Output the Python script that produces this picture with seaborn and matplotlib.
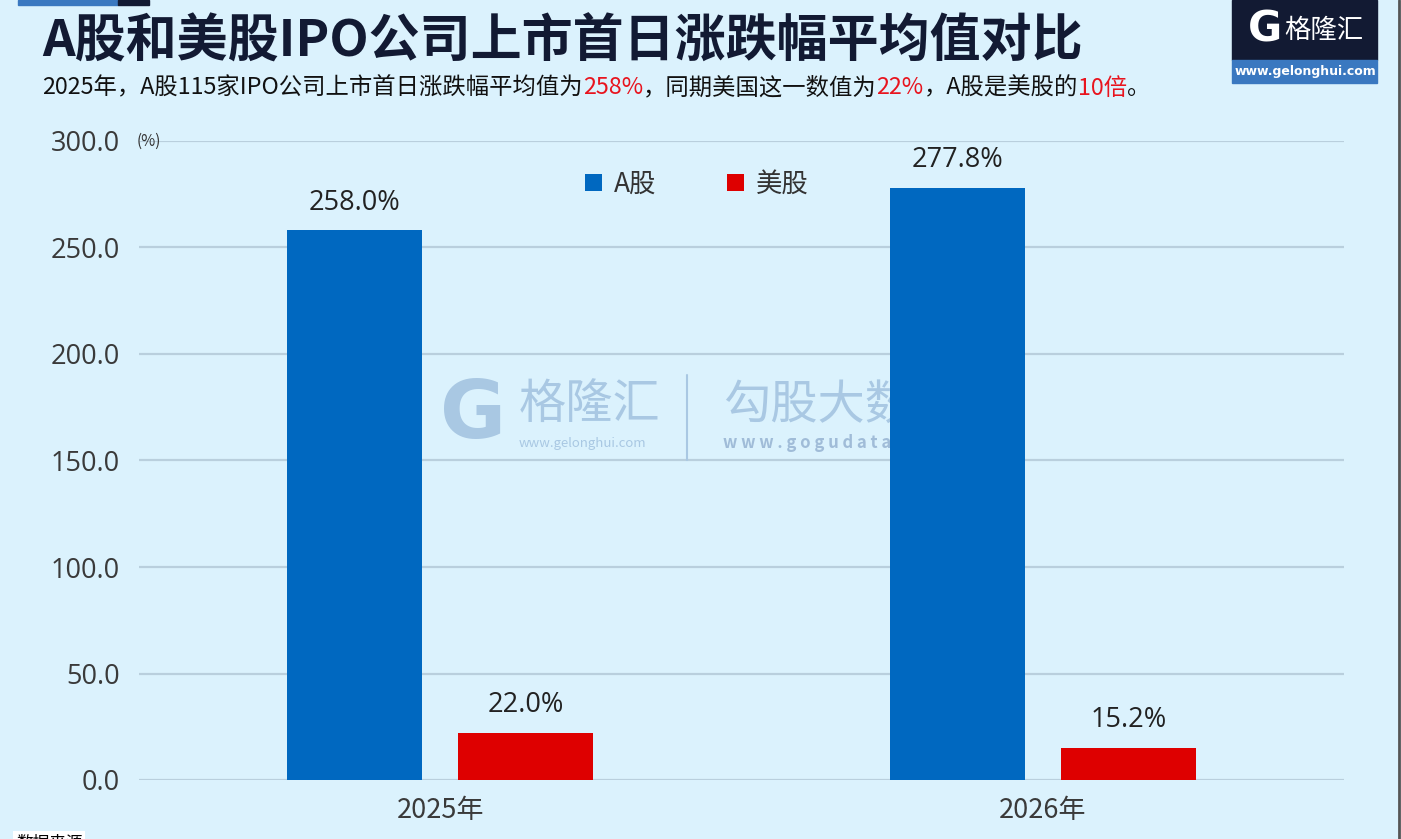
import pandas as pd
import numpy as np
import seaborn as sns
import matplotlib.pyplot as plt
from matplotlib.patches import Rectangle

# data
years = ['2025年', '2026年']
markets = ['A股', '美股']
a_share = [258.0, 277.8]
us_share = [22.0, 15.2]
yticks = [0, 50, 100, 150, 200, 250, 300]

df = pd.DataFrame({
    'year': years * 2,
    'market': [markets[0]] * 2 + [markets[1]] * 2,
    'value': a_share + us_share,
})

bg = '#DBF2FD'
sns.set_theme(style='white')
plt.rcParams['font.family'] = ['Noto Sans CJK SC', 'DejaVu Sans']

fig = plt.figure(figsize=(14.01, 8.39), dpi=100, facecolor=bg)
ax = fig.add_axes([139 / 1401, 59 / 839, 1205 / 1401, 639 / 839])
ax.set_facecolor(bg)

sns.barplot(data=df, x='year', y='value', hue='market',
            palette=['#0068C0', '#DE0000'], width=0.568, gap=0.21,
            saturation=1, linewidth=0, ax=ax, zorder=2)

ax.set_xlim(-0.5, 1.5)
ax.set_ylim(0, 300)
ax.set_yticks(yticks)
ax.set_yticklabels([f'{v:.1f}' for v in yticks])
ax.yaxis.grid(True, color='#B9CFDD', linewidth=1.6, zorder=0)
ax.set_axisbelow(True)
for s in ax.spines.values():
    s.set_visible(False)
ax.tick_params(axis='y', length=0, pad=14, labelsize=19.5, labelcolor='#3A3A3A')
ax.tick_params(axis='x', length=0, pad=12, labelsize=19.5, labelcolor='#3A3A3A')
for t in ax.get_yticklabels():
    t.set_family(['Open Sans', 'Noto Sans CJK SC'])
ax.set_xlabel('')
ax.set_ylabel('')

for cont in ax.containers:
    ax.bar_label(cont, fmt='%.1f%%', padding=10, fontsize=19.5, color='#222222',
                 family=['Open Sans', 'DejaVu Sans'])

ax.text(-0.002, 300, '(%)', transform=ax.get_yaxis_transform(), ha='left',
        va='center', fontsize=11, color='#333333')

leg = ax.legend(loc='upper center', bbox_to_anchor=(0.463, 0.99), ncol=2,
                frameon=False, fontsize=19, handlelength=0.62, handleheight=0.62,
                handletextpad=0.45, columnspacing=2.7)
for t in leg.get_texts():
    t.set_color('#333333')

# watermark in the middle
wm = '#A9C8E3'
ax.text(0.0, 171, 'G', fontsize=58, color=wm, ha='left', va='center',
        fontweight='bold', family=['DejaVu Sans'], zorder=1)
ax.text(0.13, 176, '格隆汇', fontsize=34, color=wm, ha='left', va='center', zorder=1)
ax.text(0.13, 158, 'www.gelonghui.com', fontsize=9.5, color=wm, ha='left',
        va='center', zorder=1)
ax.plot([0.41, 0.41], [150, 190], color=wm, linewidth=1.5, zorder=1)
ax.text(0.47, 176, '勾股大数据', fontsize=34, color=wm, ha='left', va='center', zorder=1)
ax.text(0.47, 158, 'w w w . g o g u d a t a . c o m', fontsize=12, color='#A0BCD8',
        ha='left', va='center', fontweight='bold', zorder=1)

# title and subtitle
fig.text(42 / 1401, 1 - 42 / 839, 'A股和美股IPO公司上市首日涨跌幅平均值对比',
         fontsize=36.7, fontweight='bold', color='#121a33', ha='left', va='center')

parts = [('2025年，A股115家IPO公司上市首日涨跌幅平均值为', '#111111'),
         ('258%', '#E8141E'),
         ('，同期美国这一数值为', '#111111'),
         ('22%', '#E8141E'),
         ('，A股是美股的', '#111111'),
         ('10倍', '#E8141E'),
         ('。', '#111111')]
renderer = fig.canvas.get_renderer()
x = 42
for txt, col in parts:
    t = fig.text(x / 1401, 1 - 88 / 839, txt, fontsize=16.8, color=col,
                 ha='left', va='center')
    x += t.get_window_extent(renderer).width

# top-left strip
fig.add_artist(Rectangle((18 / 1401, 1 - 5 / 839), 100 / 1401, 5 / 839,
                         transform=fig.transFigure, color='#3A78C0'))
fig.add_artist(Rectangle((118 / 1401, 1 - 5 / 839), 31 / 1401, 5 / 839,
                         transform=fig.transFigure, color='#121a33'))

# logo top-right
fig.add_artist(Rectangle((1232 / 1401, 1 - 60 / 839), 145 / 1401, 60 / 839,
                         transform=fig.transFigure, color='#121a33'))
fig.add_artist(Rectangle((1232 / 1401, 1 - 83 / 839), 145 / 1401, 23 / 839,
                         transform=fig.transFigure, color='#3A78C0'))
fig.text(1265 / 1401, 1 - 30 / 839, 'G', fontsize=30, fontweight='bold',
         color='white', ha='center', va='center', family=['DejaVu Sans'])
fig.text(1324 / 1401, 1 - 30 / 839, '格隆汇', fontsize=19, color='white',
         ha='center', va='center')
fig.text(1305 / 1401, 1 - 72 / 839, 'www.gelonghui.com', fontsize=9,
         fontweight='bold', color='white', ha='center', va='center',
         family=['DejaVu Sans'])

# right border and cut-off source note
fig.add_artist(plt.Line2D([1398.5 / 1401, 1398.5 / 1401], [0, 1],
                          transform=fig.transFigure, color='#555555', linewidth=2))
fig.text(16 / 1401, 5 / 839, '数据来源', fontsize=12, color='black', ha='left',
         va='top', bbox=dict(facecolor='white', edgecolor='none', pad=2))

fig.savefig('out.png', dpi=100, facecolor=bg)
